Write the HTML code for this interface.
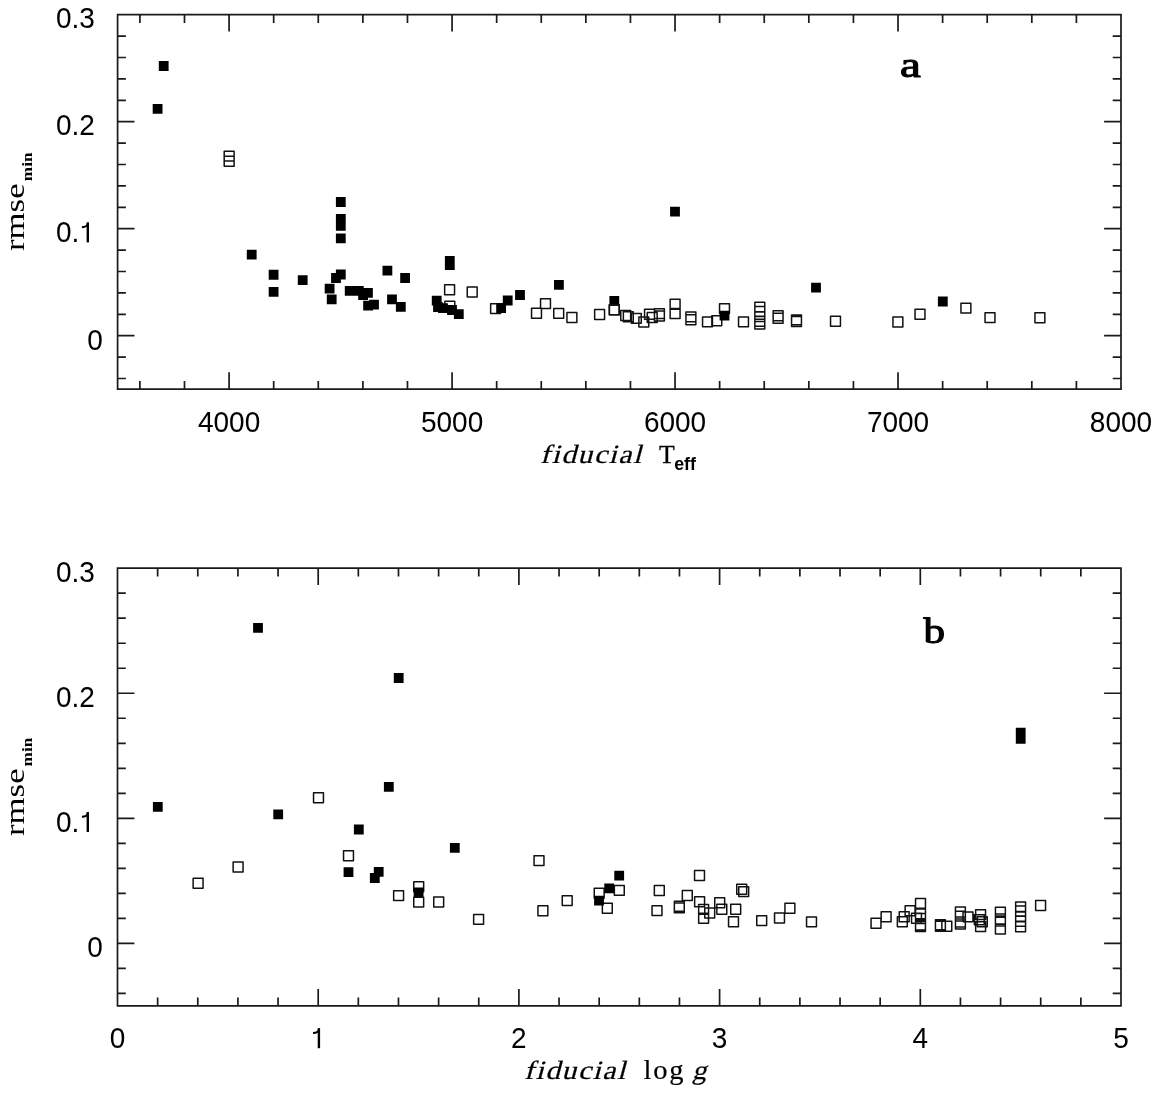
<!DOCTYPE html>
<html><head><meta charset="utf-8"><style>
html,body{margin:0;padding:0;background:#fff;}
body{width:1159px;height:1094px;position:relative;overflow:hidden;}
svg{position:absolute;left:0;top:0;will-change:transform;}
</style></head><body>
<svg width="1159" height="1094" viewBox="0 0 1159 1094">
<path d="M117.6 14.7H1121V389.2H117.6ZM139.9 389.2v-8.3M139.9 14.7v8.3M184.49 389.2v-8.3M184.49 14.7v8.3M229.09 389.2v-16.9M229.09 14.7v16.9M273.68 389.2v-8.3M273.68 14.7v8.3M318.28 389.2v-8.3M318.28 14.7v8.3M362.88 389.2v-8.3M362.88 14.7v8.3M407.47 389.2v-8.3M407.47 14.7v8.3M452.07 389.2v-16.9M452.07 14.7v16.9M496.66 389.2v-8.3M496.66 14.7v8.3M541.26 389.2v-8.3M541.26 14.7v8.3M585.85 389.2v-8.3M585.85 14.7v8.3M630.45 389.2v-8.3M630.45 14.7v8.3M675.04 389.2v-16.9M675.04 14.7v16.9M719.64 389.2v-8.3M719.64 14.7v8.3M764.24 389.2v-8.3M764.24 14.7v8.3M808.83 389.2v-8.3M808.83 14.7v8.3M853.43 389.2v-8.3M853.43 14.7v8.3M898.02 389.2v-16.9M898.02 14.7v16.9M942.62 389.2v-8.3M942.62 14.7v8.3M987.21 389.2v-8.3M987.21 14.7v8.3M1031.81 389.2v-8.3M1031.81 14.7v8.3M1076.4 389.2v-8.3M1076.4 14.7v8.3M117.6 36.1h8.3M1121 36.1h-8.3M117.6 57.5h8.3M1121 57.5h-8.3M117.6 78.9h8.3M1121 78.9h-8.3M117.6 100.3h8.3M1121 100.3h-8.3M117.6 121.7h16.9M1121 121.7h-16.9M117.6 143.1h8.3M1121 143.1h-8.3M117.6 164.5h8.3M1121 164.5h-8.3M117.6 185.9h8.3M1121 185.9h-8.3M117.6 207.3h8.3M1121 207.3h-8.3M117.6 228.7h16.9M1121 228.7h-16.9M117.6 250.1h8.3M1121 250.1h-8.3M117.6 271.5h8.3M1121 271.5h-8.3M117.6 292.9h8.3M1121 292.9h-8.3M117.6 314.3h8.3M1121 314.3h-8.3M117.6 335.7h16.9M1121 335.7h-16.9M117.6 357.1h8.3M1121 357.1h-8.3M117.6 378.5h8.3M1121 378.5h-8.3" fill="none" stroke="#1a1a1a" stroke-width="1.7" stroke-linecap="butt" stroke-linejoin="miter"/>
<path d="M117.5 568.2H1121V1005.9H117.5ZM157.64 1005.9v-8.3M157.64 568.2v8.3M197.78 1005.9v-8.3M197.78 568.2v8.3M237.92 1005.9v-8.3M237.92 568.2v8.3M278.06 1005.9v-8.3M278.06 568.2v8.3M318.2 1005.9v-16.9M318.2 568.2v16.9M358.34 1005.9v-8.3M358.34 568.2v8.3M398.48 1005.9v-8.3M398.48 568.2v8.3M438.62 1005.9v-8.3M438.62 568.2v8.3M478.76 1005.9v-8.3M478.76 568.2v8.3M518.9 1005.9v-16.9M518.9 568.2v16.9M559.04 1005.9v-8.3M559.04 568.2v8.3M599.18 1005.9v-8.3M599.18 568.2v8.3M639.32 1005.9v-8.3M639.32 568.2v8.3M679.46 1005.9v-8.3M679.46 568.2v8.3M719.6 1005.9v-16.9M719.6 568.2v16.9M759.74 1005.9v-8.3M759.74 568.2v8.3M799.88 1005.9v-8.3M799.88 568.2v8.3M840.02 1005.9v-8.3M840.02 568.2v8.3M880.16 1005.9v-8.3M880.16 568.2v8.3M920.3 1005.9v-16.9M920.3 568.2v16.9M960.44 1005.9v-8.3M960.44 568.2v8.3M1000.58 1005.9v-8.3M1000.58 568.2v8.3M1040.72 1005.9v-8.3M1040.72 568.2v8.3M1080.86 1005.9v-8.3M1080.86 568.2v8.3M117.5 593.21h8.3M1121 593.21h-8.3M117.5 618.22h8.3M1121 618.22h-8.3M117.5 643.23h8.3M1121 643.23h-8.3M117.5 668.25h8.3M1121 668.25h-8.3M117.5 693.26h16.9M1121 693.26h-16.9M117.5 718.27h8.3M1121 718.27h-8.3M117.5 743.28h8.3M1121 743.28h-8.3M117.5 768.29h8.3M1121 768.29h-8.3M117.5 793.3h8.3M1121 793.3h-8.3M117.5 818.31h16.9M1121 818.31h-16.9M117.5 843.33h8.3M1121 843.33h-8.3M117.5 868.34h8.3M1121 868.34h-8.3M117.5 893.35h8.3M1121 893.35h-8.3M117.5 918.36h8.3M1121 918.36h-8.3M117.5 943.37h16.9M1121 943.37h-16.9M117.5 968.38h8.3M1121 968.38h-8.3M117.5 993.39h8.3M1121 993.39h-8.3" fill="none" stroke="#1a1a1a" stroke-width="1.7" stroke-linecap="butt" stroke-linejoin="miter"/>
<path d="M224.2 151.15h9.9v9.9h-9.9ZM224.2 156.35h9.9v9.9h-9.9ZM444.65 284.75h9.9v9.9h-9.9ZM467.25 287.05h9.9v9.9h-9.9ZM444.85 301.25h9.9v9.9h-9.9ZM490.65 303.65h9.9v9.9h-9.9ZM540.55 298.65h9.9v9.9h-9.9ZM531.55 308.35h9.9v9.9h-9.9ZM553.75 308.45h9.9v9.9h-9.9ZM566.95 312.55h9.9v9.9h-9.9ZM594.65 309.55h9.9v9.9h-9.9ZM609.35 304.85h9.9v9.9h-9.9ZM620.75 310.55h9.9v9.9h-9.9ZM623.35 311.75h9.9v9.9h-9.9ZM631.35 313.45h9.9v9.9h-9.9ZM638.85 317.05h9.9v9.9h-9.9ZM644.55 309.35h9.9v9.9h-9.9ZM647.25 312.55h9.9v9.9h-9.9ZM654.45 308.65h9.9v9.9h-9.9ZM654.45 311.05h9.9v9.9h-9.9ZM670.15 299.35h9.9v9.9h-9.9ZM670.15 308.55h9.9v9.9h-9.9ZM685.95 311.95h9.9v9.9h-9.9ZM685.95 314.85h9.9v9.9h-9.9ZM702.55 316.95h9.9v9.9h-9.9ZM711.85 315.75h9.9v9.9h-9.9ZM719.55 303.65h9.9v9.9h-9.9ZM738.55 316.95h9.9v9.9h-9.9ZM754.85 302.15h9.9v9.9h-9.9ZM754.85 306.55h9.9v9.9h-9.9ZM754.85 311.65h9.9v9.9h-9.9ZM754.85 316.35h9.9v9.9h-9.9ZM754.85 319.15h9.9v9.9h-9.9ZM773.15 310.85h9.9v9.9h-9.9ZM773.15 313.25h9.9v9.9h-9.9ZM791.55 314.95h9.9v9.9h-9.9ZM791.55 316.55h9.9v9.9h-9.9ZM830.55 316.35h9.9v9.9h-9.9ZM892.95 317.05h9.9v9.9h-9.9ZM915.05 309.35h9.9v9.9h-9.9ZM960.95 303.15h9.9v9.9h-9.9ZM985.05 312.65h9.9v9.9h-9.9ZM1034.95 312.75h9.9v9.9h-9.9Z" fill="none" stroke="#111" stroke-width="1.5" stroke-linejoin="round"/>
<path d="M158.8 61.1h9.8v9.8h-9.8ZM152.7 104h9.8v9.8h-9.8ZM246.8 249.8h9.8v9.8h-9.8ZM268.7 269.85h9.8v9.8h-9.8ZM268.7 287h9.8v9.8h-9.8ZM297.8 275.2h9.8v9.8h-9.8ZM335.9 197.1h9.8v9.8h-9.8ZM335.9 214.1h9.8v9.8h-9.8ZM335.9 220.9h9.8v9.8h-9.8ZM335.9 233.4h9.8v9.8h-9.8ZM335.9 269.6h9.8v9.8h-9.8ZM331.1 273.1h9.8v9.8h-9.8ZM324.7 283.7h9.8v9.8h-9.8ZM326.8 294.5h9.8v9.8h-9.8ZM344.8 286h9.8v9.8h-9.8ZM353.9 286h9.8v9.8h-9.8ZM363.05 288h9.8v9.8h-9.8ZM358.2 290.1h9.8v9.8h-9.8ZM363.2 300.8h9.8v9.8h-9.8ZM369.1 299.8h9.8v9.8h-9.8ZM382.5 265.8h9.8v9.8h-9.8ZM400.2 273.1h9.8v9.8h-9.8ZM387.1 294.4h9.8v9.8h-9.8ZM395.9 302h9.8v9.8h-9.8ZM444.9 256.1h9.8v9.8h-9.8ZM444.9 260.2h9.8v9.8h-9.8ZM431.8 295.8h9.8v9.8h-9.8ZM433.1 302.3h9.8v9.8h-9.8ZM438.1 303.2h9.8v9.8h-9.8ZM447.1 305.1h9.8v9.8h-9.8ZM453.9 309.2h9.8v9.8h-9.8ZM496.2 303.1h9.8v9.8h-9.8ZM502.8 295.6h9.8v9.8h-9.8ZM515.1 290.1h9.8v9.8h-9.8ZM554 279.9h9.8v9.8h-9.8ZM609.4 296h9.8v9.8h-9.8ZM670.1 206.7h9.8v9.8h-9.8ZM719.6 310.7h9.8v9.8h-9.8ZM811.1 282.8h9.8v9.8h-9.8ZM937.9 296.6h9.8v9.8h-9.8Z" fill="#000"/>
<path d="M609.35 304.85h9.9v9.9h-9.9Z" fill="none" stroke="#111" stroke-width="1.5" stroke-linejoin="round"/>
<path d="M193.15 878.35h9.9v9.9h-9.9ZM233.15 862.05h9.9v9.9h-9.9ZM313.55 792.75h9.9v9.9h-9.9ZM343.55 850.75h9.9v9.9h-9.9ZM393.65 890.65h9.9v9.9h-9.9ZM413.75 881.75h9.9v9.9h-9.9ZM413.75 897.15h9.9v9.9h-9.9ZM433.75 897.05h9.9v9.9h-9.9ZM473.65 914.45h9.9v9.9h-9.9ZM534.05 855.65h9.9v9.9h-9.9ZM537.95 905.75h9.9v9.9h-9.9ZM562.25 895.65h9.9v9.9h-9.9ZM594.25 888.25h9.9v9.9h-9.9ZM614.35 885.45h9.9v9.9h-9.9ZM602.35 903.35h9.9v9.9h-9.9ZM654.35 885.55h9.9v9.9h-9.9ZM652.05 905.65h9.9v9.9h-9.9ZM694.55 870.55h9.9v9.9h-9.9ZM682.35 890.55h9.9v9.9h-9.9ZM674.35 901.35h9.9v9.9h-9.9ZM674.35 902.95h9.9v9.9h-9.9ZM694.65 896.85h9.9v9.9h-9.9ZM698.65 904.45h9.9v9.9h-9.9ZM704.75 908.05h9.9v9.9h-9.9ZM698.65 913.25h9.9v9.9h-9.9ZM714.75 897.85h9.9v9.9h-9.9ZM716.85 904.35h9.9v9.9h-9.9ZM730.75 904.35h9.9v9.9h-9.9ZM728.55 916.85h9.9v9.9h-9.9ZM736.75 884.25h9.9v9.9h-9.9ZM738.75 886.65h9.9v9.9h-9.9ZM756.75 915.65h9.9v9.9h-9.9ZM774.55 913.05h9.9v9.9h-9.9ZM784.95 903.25h9.9v9.9h-9.9ZM806.55 916.95h9.9v9.9h-9.9ZM871.05 918.25h9.9v9.9h-9.9ZM881.15 911.85h9.9v9.9h-9.9ZM897.35 916.85h9.9v9.9h-9.9ZM899.25 911.75h9.9v9.9h-9.9ZM905.15 905.85h9.9v9.9h-9.9ZM911.55 913.35h9.9v9.9h-9.9ZM915.55 898.45h9.9v9.9h-9.9ZM915.55 908.95h9.9v9.9h-9.9ZM915.55 913.55h9.9v9.9h-9.9ZM915.55 920.05h9.9v9.9h-9.9ZM915.55 921.55h9.9v9.9h-9.9ZM935.45 919.75h9.9v9.9h-9.9ZM935.45 921.35h9.9v9.9h-9.9ZM941.85 921.25h9.9v9.9h-9.9ZM955.45 907.05h9.9v9.9h-9.9ZM955.45 911.15h9.9v9.9h-9.9ZM955.45 917.05h9.9v9.9h-9.9ZM955.45 919.05h9.9v9.9h-9.9ZM963.05 911.95h9.9v9.9h-9.9ZM975.65 909.65h9.9v9.9h-9.9ZM975.65 921.65h9.9v9.9h-9.9ZM974.35 914.85h9.9v9.9h-9.9ZM977.35 916.85h9.9v9.9h-9.9ZM995.45 907.25h9.9v9.9h-9.9ZM995.45 914.05h9.9v9.9h-9.9ZM995.45 916.05h9.9v9.9h-9.9ZM995.45 924.15h9.9v9.9h-9.9ZM1015.65 902.05h9.9v9.9h-9.9ZM1015.65 906.05h9.9v9.9h-9.9ZM1015.65 911.45h9.9v9.9h-9.9ZM1015.65 916.25h9.9v9.9h-9.9ZM1015.65 921.75h9.9v9.9h-9.9ZM1035.65 900.55h9.9v9.9h-9.9Z" fill="none" stroke="#111" stroke-width="1.5" stroke-linejoin="round"/>
<path d="M253.1 622.9h9.8v9.8h-9.8ZM152.9 801.9h9.8v9.8h-9.8ZM273.3 809.5h9.8v9.8h-9.8ZM393.8 673.1h9.8v9.8h-9.8ZM383.9 781.9h9.8v9.8h-9.8ZM353.9 824.6h9.8v9.8h-9.8ZM449.9 842.9h9.8v9.8h-9.8ZM343.6 867.3h9.8v9.8h-9.8ZM373.8 866.9h9.8v9.8h-9.8ZM369.9 873.1h9.8v9.8h-9.8ZM413.7 887.5h9.8v9.8h-9.8ZM614.3 870.8h9.8v9.8h-9.8ZM604.3 883.4h9.8v9.8h-9.8ZM594.1 895.7h9.8v9.8h-9.8ZM1015.8 727.7h9.8v9.8h-9.8ZM1015.8 734h9.8v9.8h-9.8Z" fill="#000"/>
<text transform="translate(56,28.4) scale(1,1.055)" text-anchor="start" style="font-family:'Liberation Sans',sans-serif;font-size:28px" >0.3</text>
<text transform="translate(56,135.4) scale(1,1.055)" text-anchor="start" style="font-family:'Liberation Sans',sans-serif;font-size:28px" >0.2</text>
<text transform="translate(56,242.4) scale(1,1.055)" text-anchor="start" style="font-family:'Liberation Sans',sans-serif;font-size:28px" >0.</text>
<path d="M87.8 242.4V222.5" stroke="#000" stroke-width="2.4" fill="none"/>
<path d="M88 222.5C87.6 226.2 85.2 227.2 81.9 227.2" stroke="#000" stroke-width="1.9" fill="none"/>
<text transform="translate(56,581.9) scale(1,1.055)" text-anchor="start" style="font-family:'Liberation Sans',sans-serif;font-size:28px" >0.3</text>
<text transform="translate(56,706.96) scale(1,1.055)" text-anchor="start" style="font-family:'Liberation Sans',sans-serif;font-size:28px" >0.2</text>
<text transform="translate(56,832.01) scale(1,1.055)" text-anchor="start" style="font-family:'Liberation Sans',sans-serif;font-size:28px" >0.</text>
<path d="M87.8 832.01V812.11" stroke="#000" stroke-width="2.4" fill="none"/>
<path d="M88 812.11C87.6 815.81 85.2 816.81 81.9 816.81" stroke="#000" stroke-width="1.9" fill="none"/>
<text transform="translate(87.2,349.6) scale(1,1.055)" text-anchor="start" style="font-family:'Liberation Sans',sans-serif;font-size:28px" >0</text>
<text transform="translate(87.2,957.27) scale(1,1.055)" text-anchor="start" style="font-family:'Liberation Sans',sans-serif;font-size:28px" >0</text>
<text transform="translate(229.09,431.9) scale(1,1.055)" text-anchor="middle" style="font-family:'Liberation Sans',sans-serif;font-size:28px" >4000</text>
<text transform="translate(452.07,431.9) scale(1,1.055)" text-anchor="middle" style="font-family:'Liberation Sans',sans-serif;font-size:28px" >5000</text>
<text transform="translate(675.04,431.9) scale(1,1.055)" text-anchor="middle" style="font-family:'Liberation Sans',sans-serif;font-size:28px" >6000</text>
<text transform="translate(898.02,431.9) scale(1,1.055)" text-anchor="middle" style="font-family:'Liberation Sans',sans-serif;font-size:28px" >7000</text>
<text transform="translate(1121,431.9) scale(1,1.055)" text-anchor="middle" style="font-family:'Liberation Sans',sans-serif;font-size:28px" >8000</text>
<text transform="translate(117.5,1048.2) scale(1,1.055)" text-anchor="middle" style="font-family:'Liberation Sans',sans-serif;font-size:28px" >0</text>
<path d="M318.9 1048.2V1028.3" stroke="#000" stroke-width="2.4" fill="none"/>
<path d="M319.1 1028.3C318.7 1032 316.3 1033 313 1033" stroke="#000" stroke-width="1.9" fill="none"/>
<text transform="translate(518.9,1048.2) scale(1,1.055)" text-anchor="middle" style="font-family:'Liberation Sans',sans-serif;font-size:28px" >2</text>
<text transform="translate(719.6,1048.2) scale(1,1.055)" text-anchor="middle" style="font-family:'Liberation Sans',sans-serif;font-size:28px" >3</text>
<text transform="translate(920.3,1048.2) scale(1,1.055)" text-anchor="middle" style="font-family:'Liberation Sans',sans-serif;font-size:28px" >4</text>
<text transform="translate(1121,1048.2) scale(1,1.055)" text-anchor="middle" style="font-family:'Liberation Sans',sans-serif;font-size:28px" >5</text>
<text transform="translate(540,462.6) skewX(-15) scale(1.1200,1)" text-anchor="start" style="font-family:'Liberation Serif',serif;font-size:26.4px;letter-spacing:1.4px;stroke:#000;stroke-width:0.25px">fiducial</text>
<text transform="translate(659,462.6)" text-anchor="start" style="font-family:'Liberation Serif',serif;font-size:25.7px;stroke:#000;stroke-width:0.3px">T</text>
<text transform="translate(674.2,470.2)" text-anchor="start" style="font-family:'Liberation Sans',sans-serif;font-size:17.8px;font-weight:bold">eff</text>
<text transform="translate(524,1078.9) skewX(-15) scale(1.1200,1)" text-anchor="start" style="font-family:'Liberation Serif',serif;font-size:26.4px;letter-spacing:1.4px;stroke:#000;stroke-width:0.25px">fiducial</text>
<text transform="translate(643.6,1078.9) scale(1.0800,1)" text-anchor="start" style="font-family:'Liberation Serif',serif;font-size:26.4px;letter-spacing:1.6px;stroke:#000;stroke-width:0.2px">log</text>
<text transform="translate(692,1078.9) skewX(-15) scale(1.0800,1)" text-anchor="start" style="font-family:'Liberation Serif',serif;font-size:26.4px;stroke:#000;stroke-width:0.2px">g</text>
<text transform="translate(24.1,251) rotate(-90) scale(1.2600,1)" text-anchor="start" style="font-family:'Liberation Serif',serif;font-size:27.6px">rmse</text>
<text transform="translate(31.7,181.2) rotate(-90) scale(1.2000,1)" text-anchor="start" style="font-family:'Liberation Serif',serif;font-size:14.4px;font-weight:bold">min</text>
<text transform="translate(24.1,836) rotate(-90) scale(1.2600,1)" text-anchor="start" style="font-family:'Liberation Serif',serif;font-size:27.6px">rmse</text>
<text transform="translate(31.7,766.5) rotate(-90) scale(1.2000,1)" text-anchor="start" style="font-family:'Liberation Serif',serif;font-size:14.4px;font-weight:bold">min</text>
<text transform="translate(900,77) scale(1.3000,1)" text-anchor="start" style="font-family:'Liberation Serif',serif;font-size:36px;stroke:#000;stroke-width:1.1px;stroke-linejoin:round">a</text>
<text transform="translate(923.6,643) scale(1.2000,1)" text-anchor="start" style="font-family:'Liberation Serif',serif;font-size:36px;stroke:#000;stroke-width:1.1px;stroke-linejoin:round">b</text>
</svg>
</body></html>
